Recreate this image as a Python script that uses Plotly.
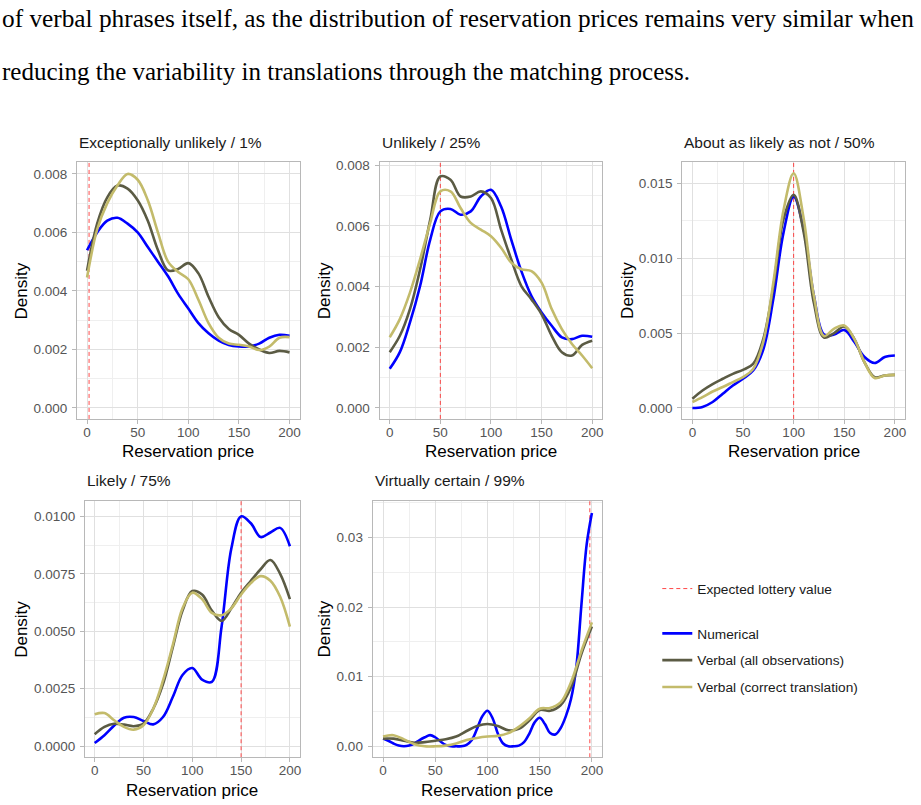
import plotly.graph_objects as go

W, H = 921, 805

# ---------------- data ----------------
X = [0, 10, 20, 30, 40, 50, 60, 70, 80, 90, 100, 110, 120, 130, 140, 150, 160, 170, 180, 190, 200]
X5 = list(range(0, 201, 5))

titles = ["Exceptionally unlikely / 1%", "Unlikely / 25%", "About as likely as not / 50%",
          "Likely / 75%", "Virtually certain / 99%"]
expected_values = [2, 50, 100, 150, 198]
series_names = ["Numerical", "Verbal (all observations)", "Verbal (correct translation)"]

p1_num = [0.00539, 0.0060, 0.0064, 0.0065, 0.0063, 0.0060, 0.0055, 0.0050, 0.0045, 0.0039, 0.0034,
          0.0029, 0.00255, 0.0023, 0.00215, 0.0021, 0.0021, 0.0022, 0.0024, 0.0025, 0.00247]
p1_all = [0.00469, 0.0063, 0.0072, 0.0076, 0.0075, 0.0071, 0.0064, 0.0054, 0.0047, 0.00475, 0.00495,
          0.0046, 0.0038, 0.0031, 0.0027, 0.0025, 0.0022, 0.0020, 0.00188, 0.00195, 0.0019]
p1_cor = [0.00446, 0.0061, 0.0070, 0.0076, 0.0080, 0.0078, 0.0071, 0.0060, 0.0050, 0.00465, 0.0044,
          0.0037, 0.0029, 0.0024, 0.0022, 0.00216, 0.0021, 0.00198, 0.0021, 0.0024, 0.00242]

p2_num = [0.00129, 0.00184, 0.00282, 0.00402, 0.00555, 0.00648, 0.00656, 0.00637, 0.00648, 0.00697, 0.00719,
          0.00664, 0.00555, 0.00451, 0.00369, 0.00315, 0.00271, 0.00233, 0.00227, 0.00238, 0.00235]
p2_all = [0.00184, 0.00238, 0.00326, 0.00457, 0.0062, 0.00763, 0.00752, 0.00697, 0.00697, 0.00714, 0.00692,
          0.00588, 0.0049, 0.00402, 0.00358, 0.00309, 0.00238, 0.00184, 0.00173, 0.00208, 0.00222]
p2_cor = [0.00233, 0.00293, 0.0038, 0.0049, 0.0061, 0.00714, 0.00714, 0.00659, 0.0061, 0.00588, 0.00566,
          0.00528, 0.00479, 0.00457, 0.00451, 0.00413, 0.00326, 0.0026, 0.00211, 0.00173, 0.00131]

p3_num = [0.0, 0.00007, 0.0004, 0.00095, 0.0015, 0.00195, 0.0025, 0.0039, 0.0073, 0.0117, 0.0141,
          0.0119, 0.0075, 0.0049, 0.0049, 0.0052, 0.0044, 0.0034, 0.0030, 0.0034, 0.0035]
p3_all = [0.00062, 0.00117, 0.0016, 0.00195, 0.00228, 0.00254, 0.00294, 0.0046, 0.0081, 0.0126, 0.01422,
          0.0117, 0.0070, 0.0047, 0.0050, 0.00544, 0.0046, 0.00305, 0.00206, 0.00217, 0.00221]
p3_cor = [0.0004, 0.00073, 0.0011, 0.0014, 0.00173, 0.00206, 0.0026, 0.0044, 0.0084, 0.0132, 0.01566,
          0.0126, 0.0075, 0.0048, 0.0053, 0.0055, 0.0046, 0.00305, 0.0020, 0.00217, 0.00221]

p4_num = [0.00014, 0.00048, 0.0009, 0.00124, 0.00127, 0.0011, 0.00095, 0.00127, 0.00214, 0.0031, 0.0034,
          0.0029, 0.0028, 0.0052, 0.0086, 0.0100, 0.0097, 0.0091, 0.0093, 0.0095, 0.0087]
p4_all = [0.00052, 0.00084, 0.00098, 0.00094, 0.00087, 0.00098, 0.00163, 0.0027, 0.0043, 0.0059, 0.00675,
          0.0066, 0.0059, 0.00545, 0.0060, 0.00668, 0.0072, 0.0077, 0.0081, 0.0075, 0.0064]
p4_cor = [0.00139, 0.00144, 0.00113, 0.00084, 0.00072, 0.00091, 0.00163, 0.00286, 0.0044, 0.0060, 0.00668,
          0.0064, 0.0058, 0.0057, 0.0060, 0.0066, 0.0071, 0.0074, 0.0072, 0.0065, 0.0052]

p5_num = [0.0011, 0.0008, 0.0004, 0.0001, 0.0, 0.0001, 0.0004, 0.0009, 0.0013, 0.0016, 0.0013,
          0.0007, 0.0002, 0.0, 0.0, 0.0, 0.0002, 0.0009, 0.0025, 0.0043, 0.0051,
          0.0040, 0.0018, 0.0004, 0.0, 0.0, 0.0001, 0.0006, 0.0018, 0.0034, 0.0041,
          0.0032, 0.0019, 0.0017, 0.0026, 0.0043, 0.0068, 0.0113, 0.0204, 0.0290, 0.0335]
p5_all = [0.0011, 0.0011, 0.0008, 0.0005, 0.0006, 0.0008, 0.0010, 0.0014, 0.0022, 0.0029, 0.0032,
          0.0029, 0.0023, 0.0025, 0.0037, 0.0052, 0.0051, 0.0059, 0.0085, 0.0133, 0.0172]
p5_cor = [0.0014, 0.0016, 0.0010, 0.0003, 0.0, 0.0, 0.0001, 0.0004, 0.0009, 0.0012, 0.0014,
          0.0015, 0.0019, 0.0028, 0.0040, 0.0054, 0.0055, 0.0063, 0.0092, 0.0137, 0.0178]

y_ranges = [[-0.000375, 0.0084], [-0.00036, 0.0081], [-0.00073, 0.0164], [-0.00048, 0.01069], [-0.00157, 0.0353]]
y_dticks = [0.002, 0.002, 0.005, 0.0025, 0.01]
y_formats = [".3f", ".3f", ".3f", ".4f", ".2f"]

paragraph = ["of verbal phrases itself, as the distribution of reservation prices remains very similar when",
             "reducing the variability in translations through the matching process."]

# ---------------- styling ----------------
colors = ["#0000FF", "#5B5B44", "#C3BB6B"]
# panel boxes in pixels: (left, right, top, bottom)
boxes = [(77, 300, 159, 417), (380, 603, 159, 417), (683, 906, 159, 417),
         (85, 300, 499, 757), (373, 603, 499, 757)]
ytitle_x = [22, 325, 628, 22, 325]

panels_x = [[X, X, X], [X, X, X], [X, X, X], [X, X, X], [X5, X, X]]
panels_y = [[p1_num, p1_all, p1_cor], [p2_num, p2_all, p2_cor], [p3_num, p3_all, p3_cor],
            [p4_num, p4_all, p4_cor], [p5_num, p5_all, p5_cor]]

FONT = "Liberation Sans, Arial, sans-serif"

def px(x):
    return x / W

def py(y):
    return 1 - y / H

fig = go.Figure()
annotations = []
layout_axes = {}

for i in range(5):
    sfx = "" if i == 0 else str(i + 1)
    xa, ya = "x" + sfx, "y" + sfx
    l, r, t, b = boxes[i]
    # expected lottery value line
    fig.add_trace(go.Scatter(
        x=[expected_values[i], expected_values[i]], y=y_ranges[i], mode="lines",
        line=dict(color="rgba(255,40,40,0.85)", width=1, dash="4px,3px"),
        name="Expected lottery value", legend="legend2", showlegend=(i == 0),
        legendgroup="ev", xaxis=xa, yaxis=ya, hoverinfo="skip"))
    for k in range(3):
        fig.add_trace(go.Scatter(
            x=panels_x[i][k], y=panels_y[i][k], mode="lines",
            line=dict(color=colors[k], width=2.6, shape="spline", smoothing=1.0),
            name=series_names[k], showlegend=(i == 0), legendgroup="g%d" % k,
            xaxis=xa, yaxis=ya))
    common = dict(showline=True, mirror=True, linecolor="#b8b8b8", linewidth=1,
                  showgrid=True, gridcolor="#e0e0e0", gridwidth=1, zeroline=False,
                  ticks="outside", ticklen=4, tickcolor="#b8b8b8",
                  tickfont=dict(family=FONT, size=13.5, color="#555555"))
    layout_axes["xaxis" + sfx] = dict(
        domain=[px(l), px(r)], anchor=ya, range=[-10, 210], tick0=0, dtick=50,
        ticklabelstandoff=-3,
        minor=dict(dtick=25, showgrid=True, gridcolor="#efefef", gridwidth=0.7, ticks=""),
        **common)
    layout_axes["yaxis" + sfx] = dict(
        domain=[py(b), py(t)], anchor=xa, range=y_ranges[i], tick0=0, dtick=y_dticks[i],
        tickformat=y_formats[i], ticklabelstandoff=2,
        minor=dict(dtick=y_dticks[i] / 2, showgrid=True, gridcolor="#efefef", gridwidth=0.7, ticks=""),
        **common)
    # panel title
    annotations.append(dict(text=titles[i], x=px(l), y=py(t - 20), xref="paper", yref="paper",
                            xanchor="left", yanchor="middle", showarrow=False,
                            font=dict(family=FONT, size=15.5, color="#1a1a1a")))
    # axis titles
    annotations.append(dict(text="Reservation price", x=px((l + r) / 2), y=py(b + 33),
                            xref="paper", yref="paper", xanchor="center", yanchor="middle",
                            showarrow=False, font=dict(family=FONT, size=17, color="#000000")))
    annotations.append(dict(text="Density", x=px(ytitle_x[i]), y=py((t + b) / 2),
                            xref="paper", yref="paper", xanchor="center", yanchor="middle",
                            textangle=-90, showarrow=False,
                            font=dict(family=FONT, size=17, color="#000000")))

# paragraph text above the chart
for j, line in enumerate(paragraph):
    annotations.append(dict(text=line, x=0, y=py(14 + j * 54), xref="paper", yref="paper",
                            xanchor="left", yanchor="middle", showarrow=False,
                            font=dict(family="Liberation Serif, Times New Roman, serif",
                                      size=25.3 if j == 0 else 25, color="#000000")))

fig.update_layout(
    width=W, height=H, margin=dict(l=0, r=0, t=0, b=0),
    paper_bgcolor="white", plot_bgcolor="white",
    annotations=annotations,
    legend=dict(x=px(658), y=py(617), xanchor="left", yanchor="top",
                font=dict(family=FONT, size=13.7, color="#1a1a1a"),
                tracegroupgap=6, bgcolor="rgba(0,0,0,0)", itemclick=False),
    legend2=dict(x=px(658), y=py(572), xanchor="left", yanchor="top",
                 font=dict(family=FONT, size=13.7, color="#1a1a1a"),
                 bgcolor="rgba(0,0,0,0)"),
    **layout_axes)

fig.write_html("out.html")
